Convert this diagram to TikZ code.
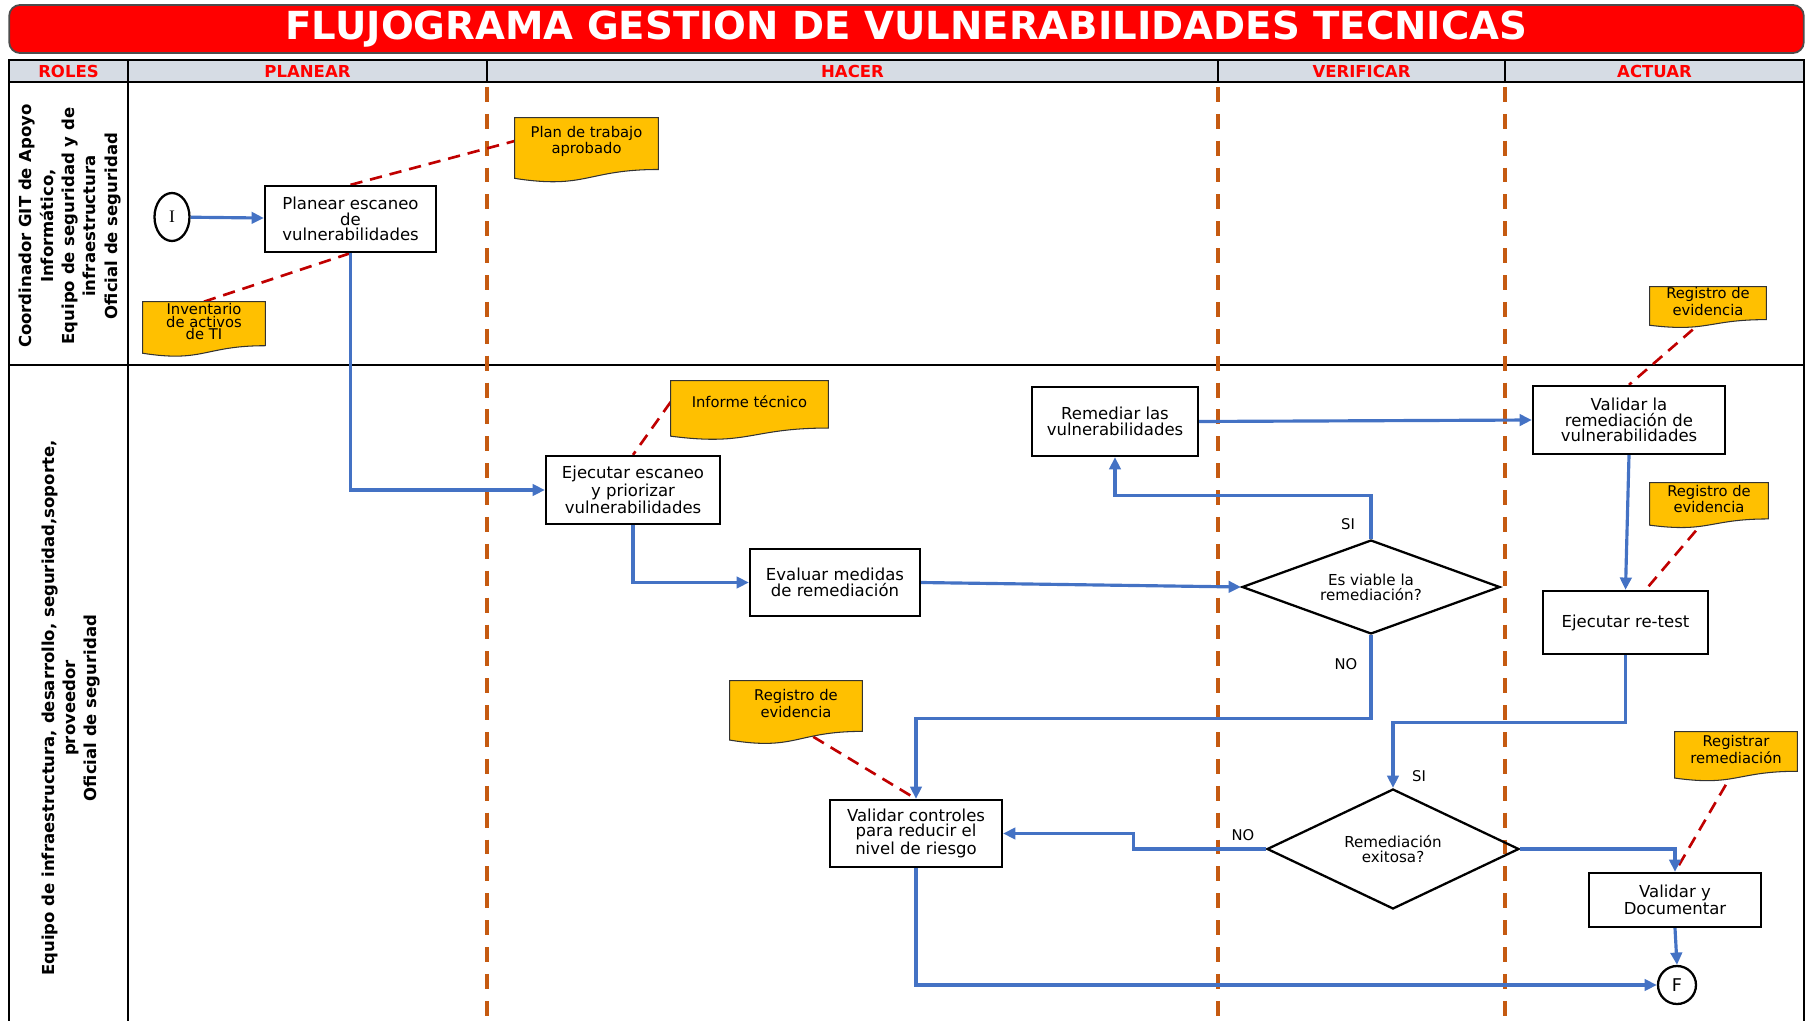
\documentclass[tikz,border=0pt]{standalone}
\usepackage{fontspec}
\setmainfont{DejaVu Sans}
\newfontfamily\serifface{Liberation Serif}
\usetikzlibrary{shapes.geometric,arrows.meta,calc}

\definecolor{titlered}{RGB}{255,0,0}
\definecolor{headgray}{RGB}{214,220,228}
\definecolor{phaseorange}{RGB}{197,90,17}
\definecolor{flowblue}{RGB}{68,114,196}
\definecolor{docyellow}{RGB}{255,192,0}
\definecolor{linkred}{RGB}{192,0,0}

\pgfdeclarelayer{bg}
\pgfsetlayers{bg,main}

\tikzset{
  titlebar/.style={rounded corners=0.22cm, draw=black!70, line width=1pt, fill=titlered,
    text=white, minimum width=35.9cm, minimum height=0.96cm,
    font=\bfseries\fontsize{22}{22}\selectfont},
  headcell/.style={draw, line width=1.5pt, fill=headgray},
  headtxt/.style={text=titlered, font=\bfseries\fontsize{9.4}{10}\selectfont},
  lane/.style={draw, line width=1.5pt},
  rolelbl/.style={rotate=90, align=center, font=\bfseries\fontsize{9.4}{12.2}\selectfont},
  phase/.style={draw=phaseorange, line width=1.9pt, dash pattern=on 8.5pt off 6.8pt},
  proc/.style={draw, line width=1.3pt, fill=white, align=center, inner sep=1pt,
    font=\fontsize{9.4}{8.8}\selectfont},
  decis/.style={diamond, draw, line width=1.3pt, align=center, inner sep=0pt,
    font=\fontsize{8.6}{8.4}\selectfont},
  terminal/.style={ellipse, draw, line width=1.3pt, fill=white, inner sep=0pt},
  docu/.style={align=center, inner sep=0pt, font=\fontsize{8.4}{7}\selectfont},
  docshape/.style={draw=black!80, line width=0.6pt, fill=docyellow},
  flow/.style={draw=flowblue, line width=1.8pt, -{Triangle[length=7pt,width=6.5pt]}},
  link/.style={draw=linkred, line width=1.5pt, dash pattern=on 7pt off 4.5pt},
  lbl/.style={font=\fontsize{8.4}{9}\selectfont}
}

\begin{document}
\begin{tikzpicture}[x=0.02cm,y=-0.02cm]
  \useasboundingbox (0,0) rectangle (1810,1021);

  % title
  \node[titlebar] (titulo) at (906.5,29) {FLUJOGRAMA GESTION DE VULNERABILIDADES TECNICAS};

  % header row
  \foreach \nm/\xa/\xb in {ROLES/9/128, PLANEAR/128/487, HACER/487/1218, VERIFICAR/1218/1505, ACTUAR/1505/1804}{
    \draw[headcell] (\xa,60) rectangle (\xb,82);
    \node[headtxt] (h\nm) at ({(\xa+\xb)/2},71) {\nm};
  }

  % roles
  \node[rolelbl] (rol1) at (70,226) {Coordinador GIT de Apoyo\\Informático,\\Equipo de seguridad y de\\infraestructura\\Oficial de seguridad};
  \node[rolelbl] (rol2) at (71,708) {Equipo de infraestructura, desarrollo, seguridad,soporte,\\proveedor\\Oficial de seguridad};

  % activities
  \node[terminal, minimum width=0.7cm, minimum height=0.96cm, font=\serifface\fontsize{10}{10}\selectfont] (start) at (172,217) {I};
  \node[proc, minimum width=3.42cm, minimum height=1.32cm] (plan) at (350.5,219) {Planear escaneo\\de\\vulnerabilidades};
  \node[proc, minimum width=3.48cm, minimum height=1.36cm] (ejec) at (633,490) {Ejecutar escaneo\\y priorizar\\vulnerabilidades};
  \node[proc, minimum width=3.40cm, minimum height=1.34cm] (eval) at (835,582.5) {Evaluar medidas\\de remediación};
  \node[proc, minimum width=3.32cm, minimum height=1.38cm] (remed) at (1115,421.5) {Remediar las\\vulnerabilidades};
  \node[proc, minimum width=3.84cm, minimum height=1.36cm] (valrem) at (1629,420) {Validar la\\remediación de\\vulnerabilidades};
  \node[proc, minimum width=3.30cm, minimum height=1.26cm] (retest) at (1625.5,622.5) {Ejecutar re-test};
  \node[proc, minimum width=3.44cm, minimum height=1.08cm] (valdoc) at (1675,900) {Validar y\\Documentar};
  \node[proc, minimum width=3.44cm, minimum height=1.34cm] (valctl) at (916,833.5) {Validar controles\\para reducir el\\nivel de riesgo};
  \node[decis, aspect=2.7, minimum width=5.16cm, minimum height=1.88cm] (viable) at (1371,587) {Es viable la\\remediación?};
  \node[decis, aspect=2.1, minimum width=5.04cm, minimum height=2.40cm] (exito) at (1393,849) {Remediación\\exitosa?};
  \node[terminal, minimum size=0.76cm, font=\fontsize{10}{10}\selectfont] (fin) at (1677,985) {F};

  % documents
  \node[docu, minimum width=2.86cm, minimum height=0.92cm] (plandoc) at (586.5,141) {Plan de trabajo\\aprobado};
  \node[docu, minimum width=2.44cm, minimum height=0.78cm] (invdoc) at (204,321.5) {Inventario\\de activos\\de TI};
  \node[docu, minimum width=3.14cm, minimum height=0.84cm] (infdoc) at (749.5,402) {Informe técnico};
  \node[docu, minimum width=2.32cm, minimum height=0.58cm] (regdoc1) at (1708,301.5) {Registro de\\evidencia};
  \node[docu, minimum width=2.36cm, minimum height=0.64cm] (regdoc2) at (1709,499) {Registro de\\evidencia};
  \node[docu, minimum width=2.64cm, minimum height=0.90cm] (regdoc3) at (796,703.5) {Registro de\\evidencia};
  \node[docu, minimum width=2.44cm, minimum height=0.70cm] (regrem) at (1736,749.5) {Registrar\\remediación};

  % answers
  \node[lbl] (si1) at (1348,524) {SI};
  \node[lbl] (no1) at (1346,664) {NO};
  \node[lbl] (si2) at (1419,776) {SI};
  \node[lbl] (no2) at (1243,835) {NO};

  \begin{pgfonlayer}{bg}
    % lanes
    \draw[lane] (9,82) -- (9,1030);
    \draw[lane] (128,82) -- (128,1030);
    \draw[lane] (1804,82) -- (1804,1030);
    \draw[lane] (9,365) -- (1804,365);
    \foreach \x in {487,1218,1505}
      \draw[phase] (\x,60) -- (\x,1030);
    % evidence links
    \draw[link] (plan.north) -- (plandoc.west);
    \draw[link] (invdoc.north) -- (plan.south);
    \draw[link] (infdoc.west) -- (ejec.north);
    \draw[link] (regdoc1.south) -- (valrem.north);
    \draw[link] (regdoc2.south) -- ($(retest.north)+(20,0)$);
    \draw[link] (regdoc3.south) -- (valctl.north);
    \draw[link] (regrem.south) -- (valdoc.north);
    \foreach \d in {plandoc,invdoc,infdoc,regdoc1,regdoc2,regdoc3,regrem}
      \draw[docshape] (\d.north west) -- (\d.north east) -- ($(\d.north east)!1.11!(\d.south east)$)
        .. controls ($(\d.north)!1.11!(\d.south)$) and ($(\d.north)!1.54!(\d.south)$) .. ($(\d.north west)!1.3!(\d.south west)$) -- cycle;
  \end{pgfonlayer}

  % flow
  \draw[flow] (start) -- (plan);
  \draw[flow] (plan.south) |- (ejec.west);
  \draw[flow] (ejec.south) |- (eval.west);
  \draw[flow] (eval.east) -- (viable.west);
  \draw[flow] (viable.north) -- ++(0,-43) -| (remed.south);
  \draw[flow] (remed.east) -- (valrem.west);
  \draw[flow] (valrem.south) -- (retest.north);
  \draw[flow] (retest.south) -- ++(0,67) -| (exito.north);
  \draw[flow] (viable.south) -- ++(0,83) -| (valctl.north);
  \draw[flow] (exito.west) -- ++(-132,0) |- (valctl.east);
  \draw[flow] (exito.east) -| (valdoc.north);
  \draw[flow] (valdoc.south) -- (fin.north);
  \draw[flow] (valctl.south) |- (fin.west);
\end{tikzpicture}
\end{document}
